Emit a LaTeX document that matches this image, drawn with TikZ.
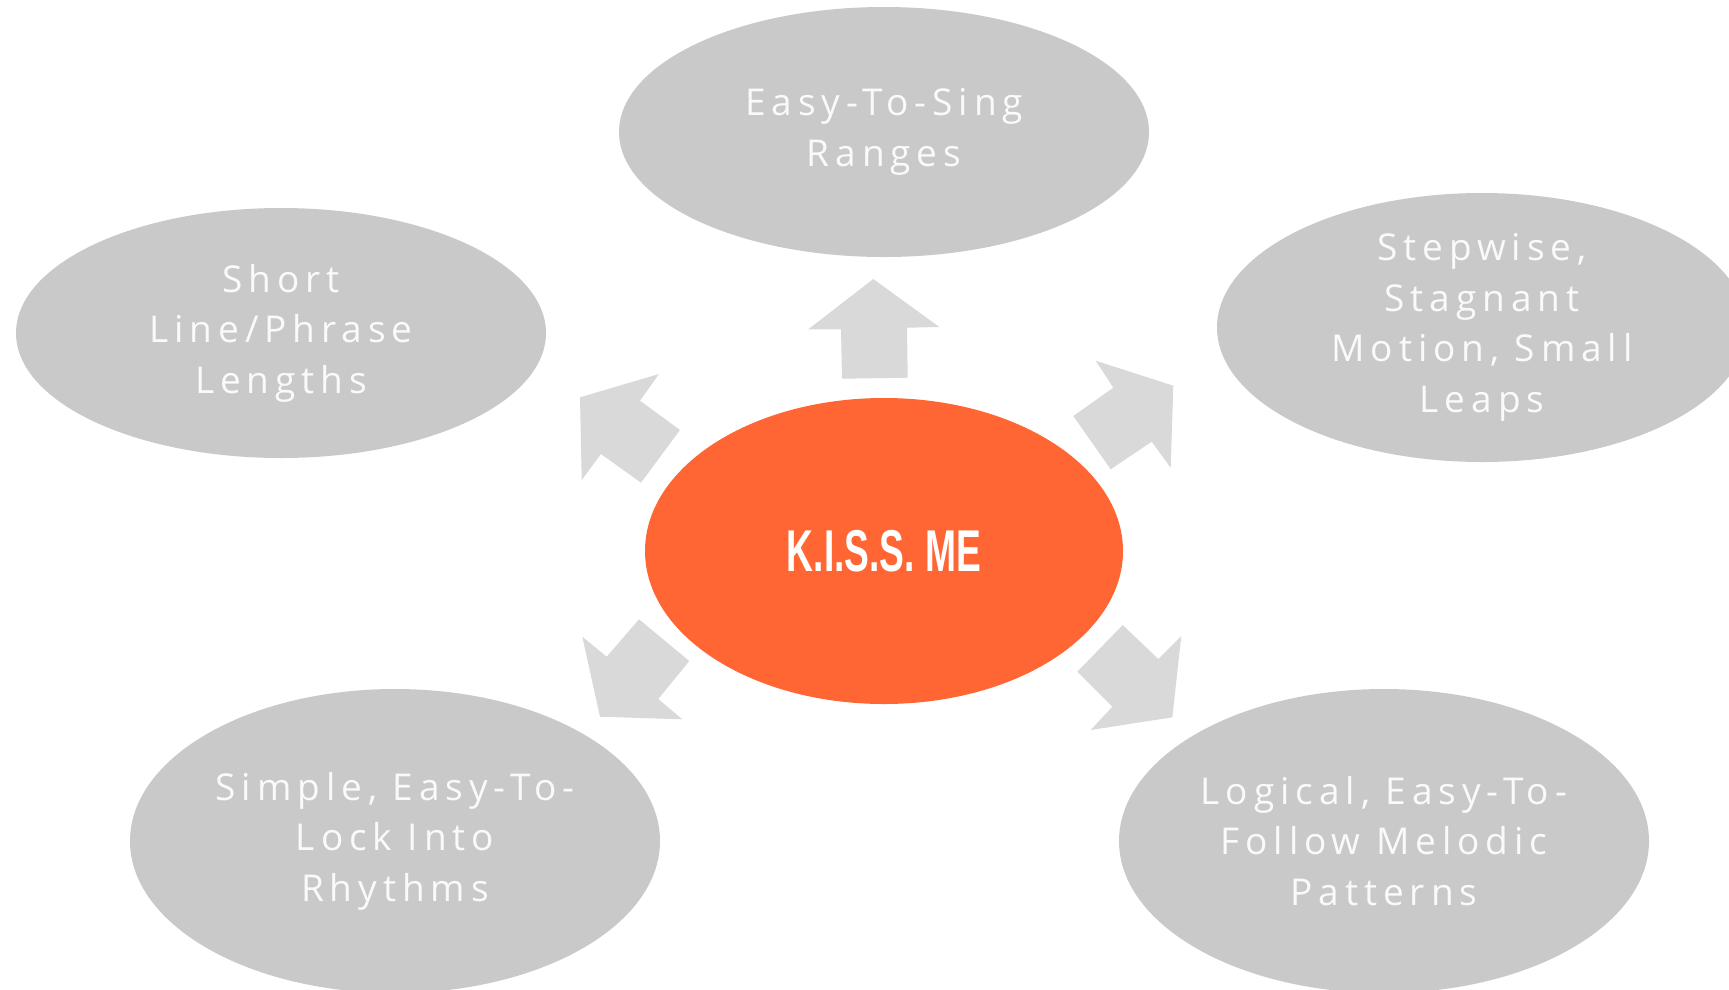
\documentclass[tikz,border=0pt]{standalone}
\usepackage{fontspec}
\setmainfont[LetterSpace=16]{Open Sans}
\newfontfamily\kissfont[FakeStretch=0.63]{Liberation Sans}
\usetikzlibrary{shapes.geometric}
\definecolor{bubble}{HTML}{C9C9C9}
\definecolor{arrowgray}{HTML}{D9D9D9}
\definecolor{hub}{HTML}{FF6633}
\definecolor{bubbletext}{HTML}{FAFAFA}
\tikzset{
  bubble/.style={ellipse, fill=bubble, inner sep=0pt, minimum width=530pt, text=bubbletext,
    align=center, font=\fontsize{37}{50.5}\selectfont},
  hubnode/.style={ellipse, fill=hub, inner sep=0pt, minimum width=478pt, minimum height=306pt,
    text=white, font=\kissfont\bfseries\fontsize{59}{60}\selectfont},
  blockarrow/.style={fill=arrowgray}
}
\begin{document}
\begin{tikzpicture}[x=1pt,y=-1pt]
\useasboundingbox (0,0) rectangle (1729,989);
\clip (0,0) rectangle (1729,989);
% outer bubbles
\node[bubble, minimum height=250pt] (top) at (884,132) {Easy-To-Sing\\Ranges};
\node[bubble, minimum height=250pt] (left) at (281,333) {Short\\Line/Phrase\\Lengths};
\node[bubble, minimum height=269pt] (right) at (1482,327.5) {Stepwise,\\Stagnant\\Motion, Small\\Leaps};
\node[bubble, minimum height=304pt] (bl) at (395,841) {Simple, Easy-To-\\Lock Into\\Rhythms};
\node[bubble, minimum height=304pt] (br) at (1384,841) {Logical, Easy-To-\\Follow Melodic\\Patterns};
% hub
\node[hubnode] (hub) at (884,551) {K.I.S.S. ME};
% block arrows
\fill[blockarrow] (873.3,279) -- (939.3,327) -- (907,327.7) -- (907.7,377.7) -- (842,378.7) -- (841,329.3) -- (808.3,329.3) -- cycle;
\fill[blockarrow] (580,397.3) -- (659,374) -- (640,400.7) -- (680,430) -- (641,482.7) -- (601,454) -- (581.7,480) -- cycle;
\fill[blockarrow] (1173.3,385.7) -- (1170.7,467.7) -- (1151.7,441.7) -- (1110.7,469.3) -- (1073.3,416) -- (1113.3,387.7) -- (1095.7,360.7) -- cycle;
\fill[blockarrow] (600,716.7) -- (582.3,636.7) -- (606.7,656.7) -- (639,619.3) -- (689.3,661) -- (658.3,699) -- (682.3,719.3) -- cycle;
\fill[blockarrow] (1172.3,717.3) -- (1090.7,730) -- (1112.3,706.7) -- (1077.3,671.7) -- (1122.7,625) -- (1158.3,659) -- (1181.3,636) -- cycle;
\end{tikzpicture}
\end{document}
